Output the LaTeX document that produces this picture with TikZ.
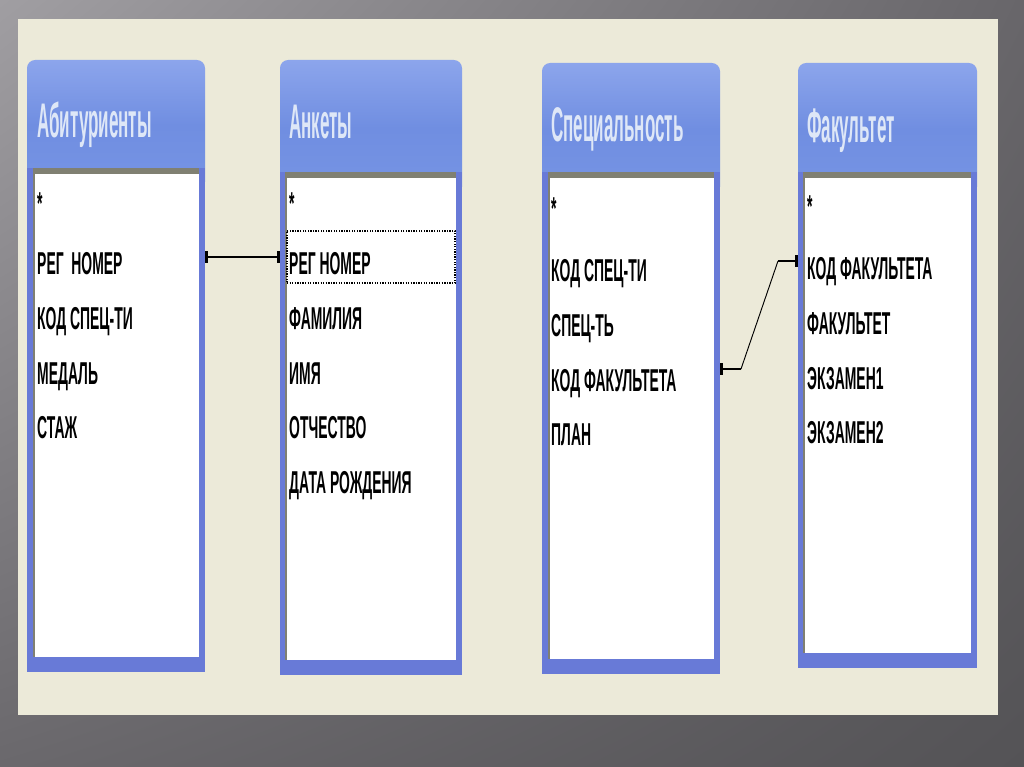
\documentclass[tikz,border=0pt]{standalone}
\usepackage{fontspec}
\usepackage{tikz}
\usetikzlibrary{arrows.meta, positioning, calc, shadings}
\newfontfamily\hdrfont{Liberation Sans}[FakeStretch=0.35]
\newfontfamily\fldfont{Liberation Sans}[FakeStretch=0.44]
\definecolor{bgul}{RGB}{160,158,162}
\definecolor{bgur}{RGB}{104,102,106}
\definecolor{bgll}{RGB}{106,104,108}
\definecolor{bglr}{RGB}{84,83,86}
\definecolor{panelbeige}{RGB}{236,234,217}
\definecolor{hdrtop}{RGB}{140,165,236}
\definecolor{hdrmid}{RGB}{112,142,225}
\definecolor{hdrbot}{RGB}{118,148,228}
\definecolor{frameblue}{RGB}{104,122,215}
\definecolor{edgegrey}{RGB}{128,128,114}
\definecolor{titlewhite}{RGB}{222,231,247}
\tikzset{
  header/.style={top color=hdrtop, bottom color=hdrbot, middle color=hdrmid, rounded corners=7pt},
  frame/.style={fill=frameblue},
  listbox/.style={fill=white},
  listedge/.style={fill=edgegrey},
  title/.style={font=\hdrfont\bfseries\fontsize{41.5}{41.5}\selectfont, text=titlewhite,
    inner sep=0pt, anchor=base west},
  field/.style={font=\fldfont\bfseries\fontsize{27}{27}\selectfont, inner sep=0pt, anchor=base west},
  fieldbelow/.style={below=1.635cm of #1.base west, field},
  selbox/.style={draw, dash pattern=on 1.1pt off 1.1pt, line width=1.1pt,
    minimum width=5.04cm, minimum height=1.56cm, inner sep=0pt},
  link/.style={line width=2.3pt, color=black},
  thinlink/.style={line width=0.8pt, color=black},
  tick/.tip={Bar[width=10pt, line width=2.6pt]}
}

\begin{document}
\begin{tikzpicture}[x=0.03cm, y=-0.03cm]
  \useasboundingbox (0,0) rectangle (1024,767);
  % Background and panel
  \shade[upper left=bgul, upper right=bgur, lower left=bgll, lower right=bglr] (0,0) rectangle (1024,767);
  \fill[panelbeige] (18,19) rectangle (998,715);

  % Абитуриенты
  \coordinate (ab-nw) at (27,60);
  \coordinate (ab-se) at (205,672);
  \shade[header] (ab-nw) rectangle (205,190);
  \fill[frame] (27,168) rectangle (ab-se);
  \fill[listbox] (33,168) rectangle (199,657);
  \fill[listedge] (33,168) rectangle (199,174);
  \fill[listedge] (33,168) rectangle (34.5,657);
  \node[title] (abt) at (37,138) {Абитуриенты};
  \node[field] (ab1) at (37,215) {*};
  \node[field] (ab2) at (37,275) {РЕГ\ \ НОМЕР};
  \node[fieldbelow=ab2] (ab3) {КОД СПЕЦ-ТИ};
  \node[fieldbelow=ab3] (ab4) {МЕДАЛЬ};
  \node[fieldbelow=ab4] (ab5) {СТАЖ};

  % Анкеты
  \coordinate (an-nw) at (280,60);
  \coordinate (an-se) at (462,675);
  \shade[header] (an-nw) rectangle (462,195);
  \fill[frame] (280,172) rectangle (an-se);
  \fill[listbox] (285,172) rectangle (456,660);
  \fill[listedge] (285,172) rectangle (456,178);
  \fill[listedge] (285,172) rectangle (286.5,660);
  \node[title] (ant) at (289,139) {Анкеты};
  \node[field] (an1) at (289,215) {*};
  \node[field] (an2) at (289,275) {РЕГ НОМЕР};
  \node[fieldbelow=an2] (an3) {ФАМИЛИЯ};
  \node[fieldbelow=an3] (an4) {ИМЯ};
  \node[fieldbelow=an4] (an5) {ОТЧЕСТВО};
  \node[fieldbelow=an5] (an6) {ДАТА РОЖДЕНИЯ};
  \node[selbox] (ansel) at (371,257) {};

  % Специальность
  \coordinate (sp-nw) at (542,63);
  \coordinate (sp-se) at (720,674);
  \shade[header] (sp-nw) rectangle (720,195);
  \fill[frame] (542,172) rectangle (sp-se);
  \fill[listbox] (548,172) rectangle (714,659);
  \fill[listedge] (548,172) rectangle (714,178);
  \fill[listedge] (548,172) rectangle (549.5,659);
  \node[title] (spt) at (551,142) {Специальность};
  \node[field] (sp1) at (551,220) {*};
  \node[field] (sp2) at (551,282) {КОД СПЕЦ-ТИ};
  \node[fieldbelow=sp2] (sp3) {СПЕЦ-ТЬ};
  \node[fieldbelow=sp3] (sp4) {КОД ФАКУЛЬТЕТА};
  \node[fieldbelow=sp4] (sp5) {ПЛАН};

  % Факультет
  \coordinate (fa-nw) at (798,63);
  \coordinate (fa-se) at (977,668);
  \shade[header] (fa-nw) rectangle (977,195);
  \fill[frame] (798,172) rectangle (fa-se);
  \fill[listbox] (803,172) rectangle (971,653);
  \fill[listedge] (803,172) rectangle (971,178);
  \fill[listedge] (803,172) rectangle (804.5,653);
  \node[title] (fat) at (807,143) {Факультет};
  \node[field] (fa1) at (807,218) {*};
  \node[field] (fa2) at (807,280) {КОД ФАКУЛЬТЕТА};
  \node[fieldbelow=fa2] (fa3) {ФАКУЛЬТЕТ};
  \node[fieldbelow=fa3] (fa4) {ЭКЗАМЕН1};
  \node[fieldbelow=fa4] (fa5) {ЭКЗАМЕН2};

  % Relationships
  \draw[link, tick-tick] (ab-se |- ansel) -- (an-nw |- ansel);
  \coordinate (spk) at ($(sp4.base)+(0,-22)$);
  \coordinate (fak) at ($(fa2.base)+(0,-19)$);
  \draw[link, tick-] (sp-se |- spk) -- ++(21,0) coordinate (k1);
  \draw[link, tick-] (fa-nw |- fak) -- ++(-20,0) coordinate (k2);
  \draw[thinlink] (k1) -- (k2);
\end{tikzpicture}
\end{document}
